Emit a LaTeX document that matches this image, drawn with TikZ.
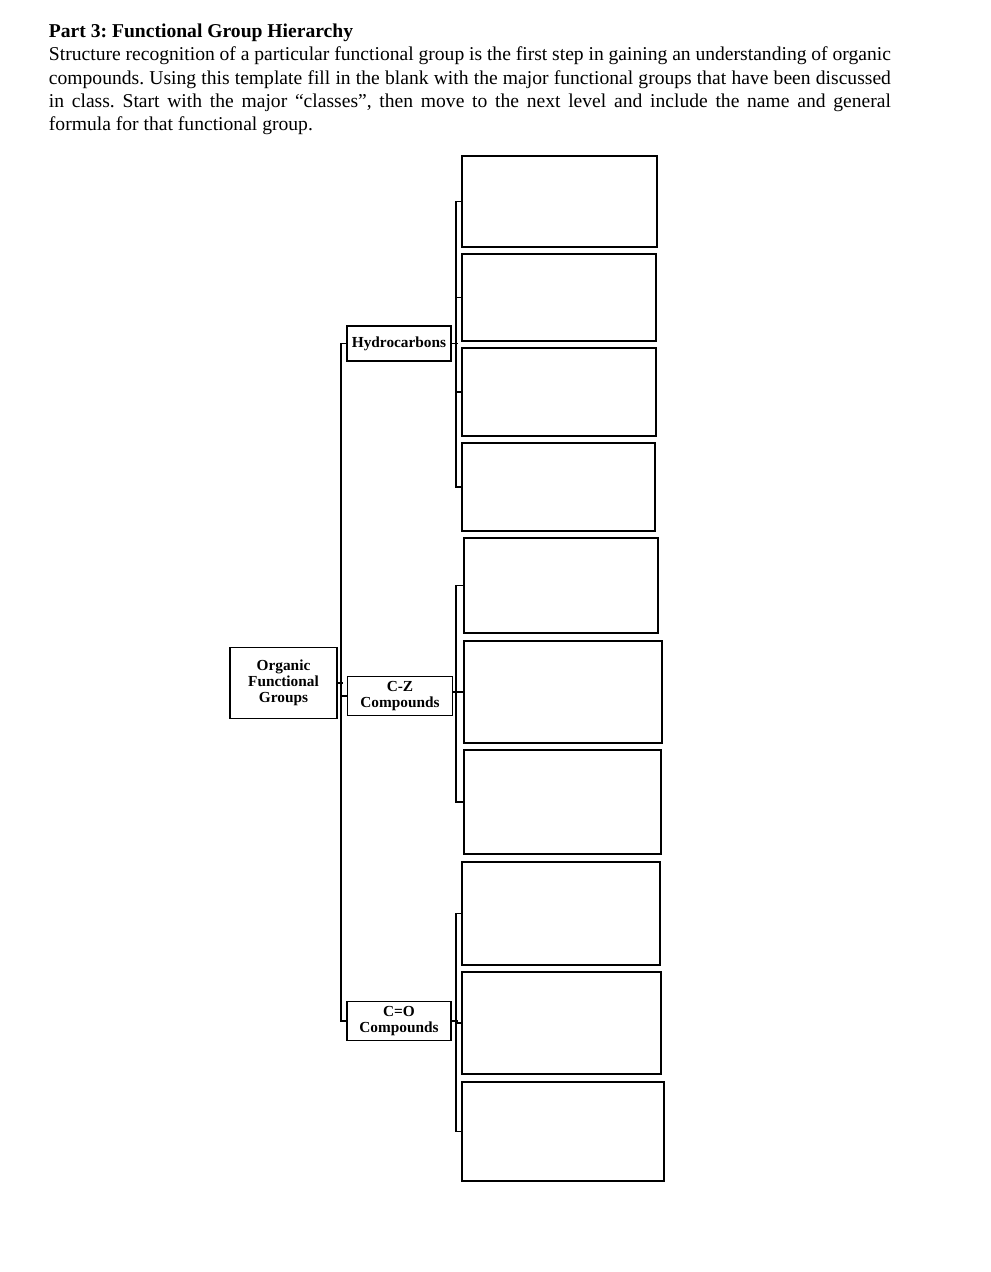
\documentclass[tikz,border=0pt]{standalone}
\usepackage{fontspec}
\setmainfont{Liberation Serif}
\usetikzlibrary{positioning}

\begin{document}
\begin{tikzpicture}[x=0.75pt, y=-0.75pt, line width=1.4pt,
    every node/.style={font=\bfseries\fontsize{11.5}{12}\selectfont},
    cls/.style={draw, align=center, inner sep=0pt},
    blank/.style={draw, inner sep=0pt}]
    \useasboundingbox (0,0) rectangle (990,1272);

    % Heading and instructions
    \node[anchor=north west, inner sep=0pt, text width=631.5pt, align=justify,
          font=\frenchspacing\fontsize{14.7}{17.5}\selectfont] (intro) at (48,23)
    {\textbf{Part 3: Functional Group Hierarchy}\par
     Structure recognition of a particular functional group is the first step in gaining an understanding of organic\linebreak
     compounds. Using this template fill in the blank with the major functional groups that have been discussed\linebreak
     in class. Start with the major “classes”, then move to the next level and include the name and general\linebreak
     formula for that functional group.};

    % Root
    \node[cls, minimum width=80.25pt, minimum height=53.25pt] (org) at (283.5,683) {Organic\\Functional\\Groups};

    % Major classes
    \node[cls, minimum width=78pt, minimum height=26.25pt] (hyd) at (399,343.5) {Hydrocarbons};
    \node[cls, minimum width=78.75pt, minimum height=29.25pt] (cz) at (400,696) {C-Z\\Compounds};
    \node[cls, minimum width=77.6pt, minimum height=29.25pt] (co) at (399,1021) {C=O\\Compounds};

    % Blanks to fill in
    \foreach \name/\cx/\cy/\w/\h in {b1/559.5/201.5/146.25/68.25, b2/559/297.5/145.5/65.25,
        b3/559/392/145.5/66, b4/558.5/487/144.75/66,
        b5/561/585.5/145.5/71.25, b6/563/692/148.5/76.5, b7/562.5/802/147.75/78,
        b8/561/913.5/148.5/77.25, b9/561.5/1023/149.25/76.5, b10/563/1131.5/151.5/74.25}
        \node[blank, minimum width=\w pt, minimum height=\h pt] (\name) at (\cx,\cy) {};

    % Trunk to the major classes
    \draw (org.east) -- ++(5,0);
    \draw (hyd.west) -- ++(-5,0) |- (co.west);
    \draw (cz.west) -- ++(-5,0);

    % Hydrocarbons branch
    \draw (hyd.east) -- ++(6,0);
    \draw (b1.west) -- ++(-5,0) |- (b4.west);
    \foreach \n in {b2,b3} \draw (\n.west) -- ++(-5,0);

    % C-Z branch
    \draw (cz.east |- b6.west) -- (b6.west);
    \draw (b5.west) -- ++(-7,0) |- (b7.west);

    % C=O branch
    \draw (co.east) -- ++(6,0);
    \draw (b8.west) -- ++(-5,0) |- (b10.west);
    \draw (b9.west) -- ++(-5,0);
\end{tikzpicture}
\end{document}
